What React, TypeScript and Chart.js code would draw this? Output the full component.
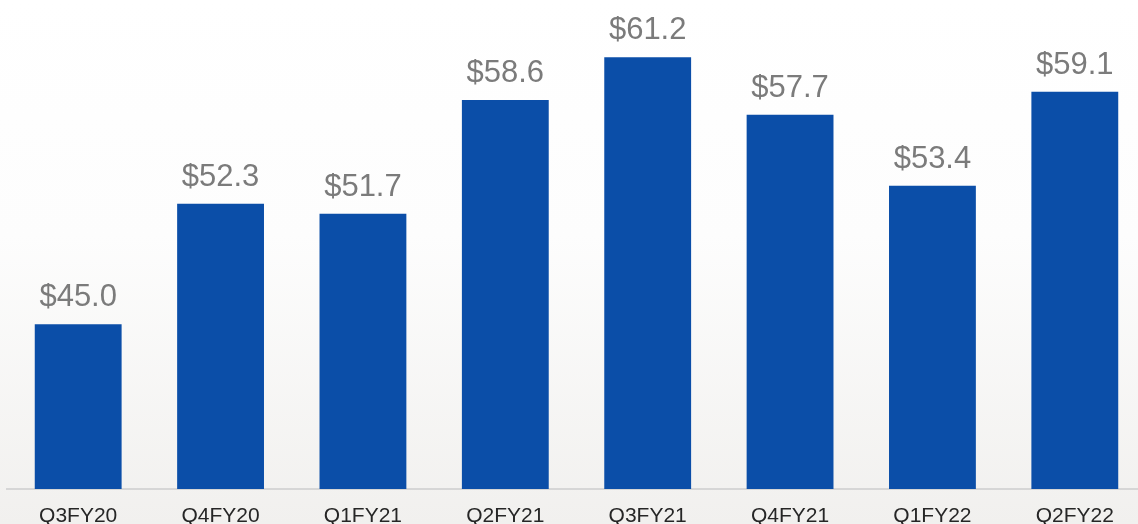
import React, { useEffect, useRef } from "react";
import { Chart, registerables } from "chart.js";

Chart.register(...registerables);

const categories = ["Q3FY20", "Q4FY20", "Q1FY21", "Q2FY21", "Q3FY21", "Q4FY21", "Q1FY22", "Q2FY22"];
const values = [45.0, 52.3, 51.7, 58.6, 61.2, 57.7, 53.4, 59.1];
const valueLabels = ["$45.0", "$52.3", "$51.7", "$58.6", "$61.2", "$57.7", "$53.4", "$59.1"];

const FONT = "'Liberation Sans', Arial, sans-serif";

const valueLabelPlugin = {
  id: "valueLabels",
  afterDatasetsDraw(chart: any) {
    const ctx = chart.ctx;
    const meta = chart.getDatasetMeta(0);
    ctx.save();
    ctx.font = `31px ${FONT}`;
    ctx.fillStyle = "#7b7b7b";
    ctx.textAlign = "center";
    ctx.textBaseline = "alphabetic";
    meta.data.forEach((bar: any, i: number) => {
      ctx.fillText(valueLabels[i], bar.x, bar.y - 18);
    });
    ctx.restore();
  },
};

export default function App() {
  const ref = useRef<HTMLCanvasElement>(null);
  useEffect(() => {
    if (!ref.current) return;
    const chart = new Chart(ref.current, {
      type: "bar",
      data: {
        labels: categories,
        datasets: [
          {
            data: values,
            backgroundColor: "#0b4ea8",
            borderWidth: 0,
            categoryPercentage: 0.61,
            barPercentage: 1,
          },
        ],
      },
      options: {
        animation: false,
        responsive: false,
        maintainAspectRatio: false,
        layout: { padding: { left: 7, right: 4, top: 0, bottom: 0 } },
        plugins: { legend: { display: false }, tooltip: { enabled: false } },
        scales: {
          y: { display: false, min: 35, max: 64.67 },
          x: {
            grid: { display: false },
            border: { display: true, color: "#d6d6d6", width: 2 },
            ticks: {
              color: "#262626",
              font: { family: FONT, size: 21 },
              padding: 7,
              maxRotation: 0,
            },
            afterFit(scale: any) {
              scale.height = 35;
            },
          },
        },
      },
      plugins: [valueLabelPlugin],
    });
    return () => chart.destroy();
  }, []);
  return (
    <div
      style={{
        position: "fixed",
        left: 0,
        top: 0,
        width: 1138,
        height: 524,
        overflow: "hidden",
        background: "linear-gradient(to bottom, #ffffff 0%, #fdfdfd 45%, #f1f0ee 100%)",
      }}
    >
      <canvas ref={ref} width={1150} height={524} style={{ display: "block", width: 1150, height: 524 }} />
    </div>
  );
}
